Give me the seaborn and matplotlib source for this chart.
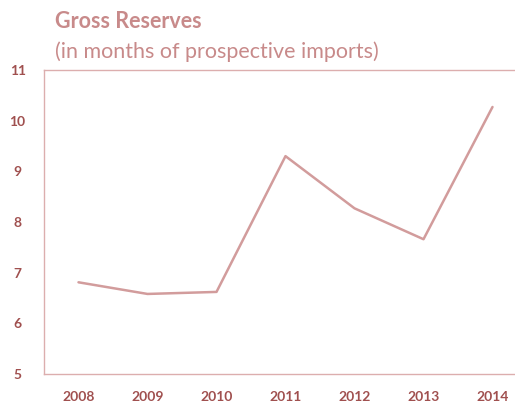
import matplotlib
matplotlib.use("Agg")
import matplotlib.pyplot as plt
import seaborn as sns
import pandas as pd
from matplotlib.ticker import FixedLocator

years = ["2008", "2009", "2010", "2011", "2012", "2013", "2014"]
reserves = [6.81, 6.58, 6.62, 9.30, 8.27, 7.66, 10.27]
yticks = [5, 6, 7, 8, 9, 10, 11]

sns.set_style("white")
plt.rcParams['font.family'] = ['Lato', 'DejaVu Sans']

df = pd.DataFrame({"year": years, "reserves": reserves})

fig = plt.figure(figsize=(5.15, 4.03), dpi=100)
ax = fig.add_axes([44/515, 29/403, 483/515, 304/403])
sns.lineplot(data=df, x="year", y="reserves", ax=ax, color="#d29c9c", linewidth=1.8)

spine_c = "#dcaeae"
label_c = "#a0504f"
ax.set_ylim(5, 11)
ax.set_xlim(-0.5, len(years) - 0.5)
ax.set_yticks(yticks)
ax.set_yticklabels([str(v) for v in yticks], fontsize=10, fontweight="bold", color=label_c)
ax.set_xticks(range(len(years)))
ax.set_xticklabels(years, fontsize=10, fontweight="bold", color=label_c)
ax.tick_params(axis="x", length=0, pad=12)
ax.tick_params(axis="y", direction="in", length=4, color=spine_c, pad=19)
ax.xaxis.set_minor_locator(FixedLocator([i + 0.5 for i in range(len(years) - 1)]))
ax.tick_params(axis="x", which="minor", direction="in", length=4, color=spine_c)
for lbl in ax.get_yticklabels():
    lbl.set_horizontalalignment("center")
ax.set_xlabel("")
ax.set_ylabel("")
for s in ["left", "bottom", "top"]:
    ax.spines[s].set_color(spine_c)
    ax.spines[s].set_linewidth(1.0)
ax.spines["right"].set_visible(False)

fig.text(55/515, 1 - 22/403, "Gross Reserves", fontsize=15.5, fontweight="bold",
         color="#c88a8a", va="center", ha="left")
fig.text(55/515, 1 - 52/403, "(in months of prospective imports)", fontsize=15.5,
         color="#c88a8a", va="center", ha="left")

fig.savefig("out.png", dpi=100)
